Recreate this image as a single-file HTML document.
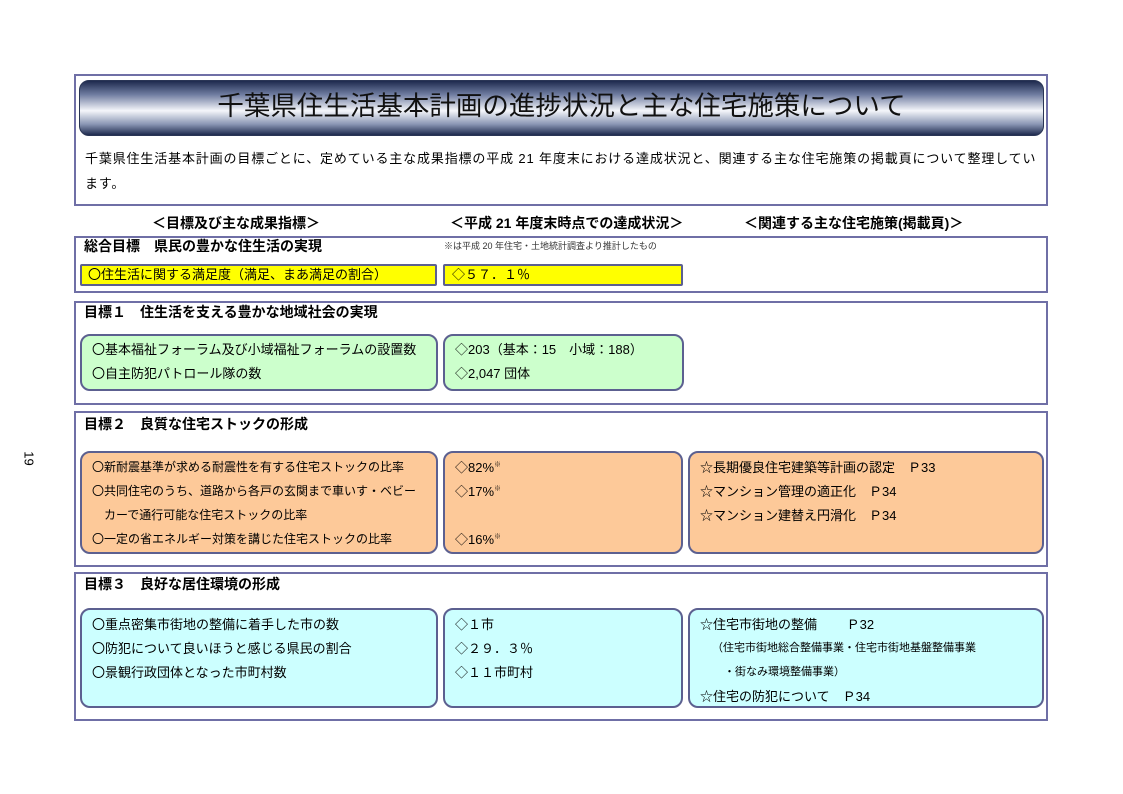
<!DOCTYPE html>
<html><head><meta charset="utf-8"><style>
body{margin:0;width:1123px;height:794px;background:#fff;position:relative;overflow:hidden;font-family:"Liberation Sans","Noto Sans CJK JP",sans-serif;color:#000}
div,span{position:absolute;box-sizing:border-box}
.frame{border:2px solid #6f6fa6;background:#fff}
.t{white-space:nowrap;line-height:1}
.b{font-weight:bold}
.box{border:2px solid #5c6090;border-radius:10px}
.or{background:#fdc999}.cy{background:#ccffff}.gr{background:#ccffcc}.ye{background:#ffff00;border-radius:2px}
.s13{font-size:13px}.s12{font-size:12px}
</style></head><body>
<span class="t" style="left:22px;top:452px;font-size:13px;transform:rotate(90deg)">19</span>

<div class="frame" style="left:74px;top:74px;width:974px;height:132px"></div>
<div style="left:79px;top:80px;width:965px;height:56px;border-radius:10px;border:1px solid #2a3555;background:linear-gradient(to bottom,#1e2a4e 0%,#6f7ca0 25%,#f4f6fa 55%,#8a96b4 80%,#1e2a4e 100%)"></div>
<span class="t" style="left:79px;width:965px;top:93px;text-align:center;font-size:26.5px;color:#111">千葉県住生活基本計画の進捗状況と主な住宅施策について</span>
<span class="t s13" style="left:85px;top:152px;letter-spacing:0.85px">千葉県住生活基本計画の目標ごとに、定めている主な成果指標の平成 21 年度末における達成状況と、関連する主な住宅施策の掲載頁について整理してい</span>
<span class="t s13" style="left:85px;top:177px;letter-spacing:0.85px">ます。</span>

<span class="t b" style="left:152px;top:216px;font-size:14px">＜目標及び主な成果指標＞</span>
<span class="t b" style="left:450px;top:216px;font-size:14px">＜平成 21 年度末時点での達成状況＞</span>
<span class="t b" style="left:744px;top:216px;font-size:14px">＜関連する主な住宅施策(掲載頁)＞</span>

<div class="frame" style="left:74px;top:236px;width:974px;height:57px"></div>
<span class="t b" style="left:84px;top:239px;font-size:14px">総合目標　県民の豊かな住生活の実現</span>
<span class="t" style="left:444px;top:242px;font-size:9px;color:#333">※は平成 20 年住宅・土地統計調査より推計したもの</span>
<div class="ye" style="left:80px;top:264px;width:357px;height:22px;border:2px solid #5c6090"></div>
<span class="t s13" style="left:88px;top:268px">〇住生活に関する満足度（満足、まあ満足の割合）</span>
<div class="ye" style="left:443px;top:264px;width:240px;height:22px;border:2px solid #5c6090"></div>
<span class="t s13" style="left:452px;top:268px">◇５７．１％</span>

<div class="frame" style="left:74px;top:301px;width:974px;height:104px"></div>
<span class="t b" style="left:84px;top:305px;font-size:14px">目標１　住生活を支える豊かな地域社会の実現</span>
<div class="box gr" style="left:80px;top:334px;width:358px;height:57px"></div>
<span class="t s13" style="left:92px;top:343px">〇基本福祉フォーラム及び小域福祉フォーラムの設置数</span>
<span class="t s13" style="left:92px;top:367px">〇自主防犯パトロール隊の数</span>
<div class="box gr" style="left:443px;top:334px;width:241px;height:57px"></div>
<span class="t s13" style="left:455px;top:343px">◇203（基本：15　小域：188）</span>
<span class="t s13" style="left:455px;top:367px">◇2,047 団体</span>

<div class="frame" style="left:74px;top:411px;width:974px;height:156px"></div>
<span class="t b" style="left:84px;top:417px;font-size:14px">目標２　良質な住宅ストックの形成</span>
<div class="box or" style="left:80px;top:451px;width:358px;height:103px"></div>
<span class="t s12" style="left:92px;top:461px">〇新耐震基準が求める耐震性を有する住宅ストックの比率</span>
<span class="t s12" style="left:92px;top:485px">〇共同住宅のうち、道路から各戸の玄関まで車いす・ベビー</span>
<span class="t s12" style="left:104px;top:509px">カーで通行可能な住宅ストックの比率</span>
<span class="t s12" style="left:92px;top:533px">〇一定の省エネルギー対策を講じた住宅ストックの比率</span>
<div class="box or" style="left:443px;top:451px;width:240px;height:103px"></div>
<span class="t s13" style="left:455px;top:461px">◇82%<sup style="font-size:7px">※</sup></span>
<span class="t s13" style="left:455px;top:485px">◇17%<sup style="font-size:7px">※</sup></span>
<span class="t s13" style="left:455px;top:533px">◇16%<sup style="font-size:7px">※</sup></span>
<div class="box or" style="left:688px;top:451px;width:356px;height:103px"></div>
<span class="t s13" style="left:700px;top:461px">☆長期優良住宅建築等計画の認定　Ｐ33</span>
<span class="t s13" style="left:700px;top:485px">☆マンション管理の適正化　Ｐ34</span>
<span class="t s13" style="left:700px;top:509px">☆マンション建替え円滑化　Ｐ34</span>

<div class="frame" style="left:74px;top:572px;width:974px;height:149px"></div>
<span class="t b" style="left:84px;top:577px;font-size:14px">目標３　良好な居住環境の形成</span>
<div class="box cy" style="left:80px;top:608px;width:358px;height:100px"></div>
<span class="t s13" style="left:92px;top:618px">〇重点密集市街地の整備に着手した市の数</span>
<span class="t s13" style="left:92px;top:642px">〇防犯について良いほうと感じる県民の割合</span>
<span class="t s13" style="left:92px;top:666px">〇景観行政団体となった市町村数</span>
<div class="box cy" style="left:443px;top:608px;width:240px;height:100px"></div>
<span class="t s13" style="left:455px;top:618px">◇１市</span>
<span class="t s13" style="left:455px;top:642px">◇２９．３％</span>
<span class="t s13" style="left:455px;top:666px">◇１１市町村</span>
<div class="box cy" style="left:688px;top:608px;width:356px;height:100px"></div>
<span class="t s13" style="left:700px;top:618px">☆住宅市街地の整備　　 Ｐ32</span>
<span class="t" style="left:712px;top:643px;font-size:11px">（住宅市街地総合整備事業・住宅市街地基盤整備事業</span>
<span class="t" style="left:724px;top:667px;font-size:11px">・街なみ環境整備事業）</span>
<span class="t s13" style="left:700px;top:690px">☆住宅の防犯について　Ｐ34</span>
</body></html>
